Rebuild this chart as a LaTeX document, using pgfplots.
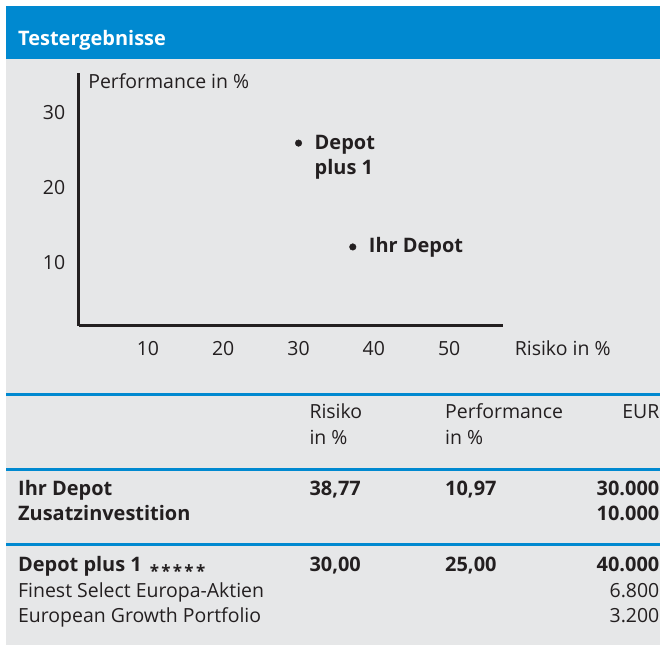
\documentclass[border=0pt]{standalone}
\usepackage{pgfplots}
\pgfplotsset{compat=1.18}
\usepackage{fontspec}
\setmainfont{Open Sans}
\definecolor{hdrblue}{HTML}{0089D0}
\definecolor{bggray}{HTML}{E6E7E8}
\definecolor{txt}{HTML}{231F20}
\newcommand{\regf}{\fontsize{19.5}{22}\selectfont}
\newcommand{\bldf}{\fontsize{20}{25.7}\selectfont\bfseries}
\newcommand{\stars}{\raisebox{-6pt}{\fontsize{17}{17}\selectfont\bfseries *\kern2.3pt*\kern2.3pt*\kern2.3pt*\kern2.3pt*}}
\begin{document}
\begin{tikzpicture}[x=1pt,y=1pt,
  reg/.style={anchor=base west, inner sep=0pt, font=\regf, text=txt},
  regr/.style={anchor=base east, inner sep=0pt, font=\regf, text=txt},
  bld/.style={anchor=base west, inner sep=0pt, font=\bldf, text=txt},
  bldr/.style={anchor=base east, inner sep=0pt, font=\bldf, text=txt}]
\fill[white] (0,0) rectangle (661,646);
\fill[bggray] (6,0) rectangle (661,587);
\fill[hdrblue] (6,587) rectangle (661,640);
\node[anchor=base west, inner sep=0pt, text=white, font=\fontsize{20}{22}\selectfont\bfseries] at (18,600) {Testergebnisse};

\begin{axis}[at={(78.8pt,319.3pt)}, anchor=south west, scale only axis,
  width=425pt, height=253.4pt,
  xmin=0.8, xmax=57.1, ymin=1.6, ymax=35.2,
  axis x line*=bottom, axis y line*=left,
  axis line style={line width=3pt, txt, -},
  xtick={10,20,30,40,50}, ytick={10,20,30},
  major tick length=0pt,
  /pgf/number format/assume math mode=true,
  tick label style={font=\regf, text=txt},
  xticklabel style={anchor=base, inner sep=0pt, yshift=-29.3pt},
  yticklabel style={anchor=east, inner sep=0pt, xshift=-13.3pt},
  xlabel={Risiko in \%}, ylabel={Performance in \%},
  every axis x label/.style={at={(axis description cs:1,0)}, anchor=base west, inner sep=0pt, xshift=12pt, yshift=-29.3pt, font=\regf, text=txt},
  every axis y label/.style={at={(axis description cs:0,1)}, anchor=base west, inner sep=0pt, xshift=9.5pt, yshift=-15.7pt, font=\regf, text=txt},
  clip=false]
\addplot[only marks, mark=*, mark size=3.3pt, txt,
  nodes near coords={Depot\\plus 1},
  every node near coord/.style={anchor=base west, align=left, inner sep=0pt, xshift=16pt, yshift=-31.7pt, font=\bldf, text=txt}]
  coordinates {(30,25.9)};
\addplot[only marks, mark=*, mark size=3.3pt, txt,
  nodes near coords={Ihr Depot},
  every node near coord/.style={anchor=base west, inner sep=0pt, xshift=16pt, yshift=-6pt, font=\bldf, text=txt}]
  coordinates {(37.2,12.1)};
\end{axis}

\foreach \yy in {250.5,175.5,100.2} {\draw[hdrblue, line width=3pt] (6.5,\yy) -- (661,\yy);}

\node[reg] at (310,227) {Risiko};
\node[reg] at (310,200.5) {in \%};
\node[reg] at (446,227) {Performance};
\node[reg] at (446,200.5) {in \%};
\node[regr] at (661,227) {EUR};

\node[bld] at (18,149) {Ihr Depot};
\node[bld] at (18,124.5) {Zusatzinvestition};
\node[bld] at (310,149) {38,77};
\node[bld] at (446,149) {10,97};
\node[bldr] at (661,149) {30.000};
\node[bldr] at (661,124.5) {10.000};

\node[bld] at (18,73) {Depot plus 1\kern8pt\stars};
\node[bld] at (310,73) {30,00};
\node[bld] at (446,73) {25,00};
\node[bldr] at (661,73) {40.000};
\node[reg] at (18,47) {Finest Select Europa-Aktien};
\node[regr] at (661,47) {6.800};
\node[reg] at (18,22) {European Growth Portfolio};
\node[regr] at (661,22) {3.200};
\end{tikzpicture}
\end{document}
